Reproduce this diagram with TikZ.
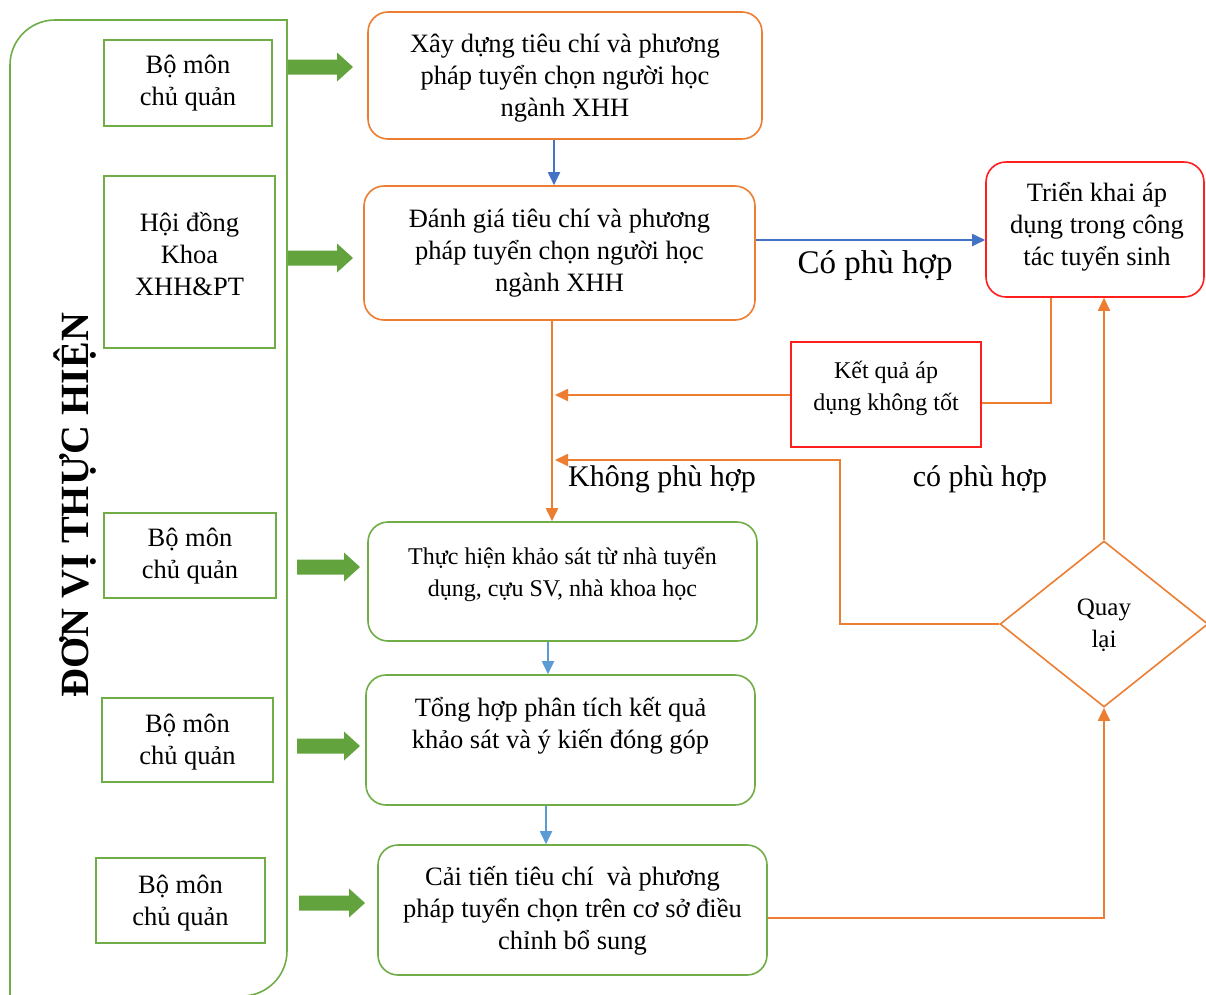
\documentclass[tikz,border=0pt]{standalone}
\usepackage{fontspec}
\setmainfont{Liberation Serif}
\usetikzlibrary{arrows.meta,shapes.geometric}
\definecolor{org}{HTML}{ED7D31}
\definecolor{grn}{HTML}{70AD47}
\definecolor{blu}{HTML}{4472C4}
\definecolor{lblu}{HTML}{5B9BD5}
\definecolor{rd}{HTML}{FF1F1F}
\definecolor{arrgreen}{HTML}{62A33E}
\newcommand\greenarrow[3]{\fill[arrgreen] (#1,#3-7.5) -- (#2-16,#3-7.5) -- (#2-16,#3-14.5) -- (#2,#3) -- (#2-16,#3+14.5) -- (#2-16,#3+7.5) -- (#1,#3+7.5) -- cycle;}
\tikzset{
  gbox/.style={draw=grn, line width=1.6pt, inner sep=0pt},
  obox/.style={draw=org, line width=1.6pt, rounded corners=20pt, inner sep=0pt},
  gmain/.style={draw=grn, line width=1.6pt, rounded corners=20pt, inner sep=0pt},
  rbox/.style={draw=rd, line width=1.6pt, rounded corners=20pt, inner sep=0pt},
  rsharp/.style={draw=rd, line width=1.6pt, inner sep=0pt},
  txt/.style={align=center, inner sep=0pt, font=\fontsize{26.5}{32}\selectfont},
  lbl/.style={inner sep=0pt, font=\fontsize{30}{34}\selectfont},
  bline/.style={draw=blu, line width=1.8pt, -{Triangle[length=13pt,width=12pt]}},
  lbline/.style={draw=lblu, line width=1.8pt, -{Triangle[length=13pt,width=12pt]}},
  oline/.style={draw=org, line width=1.8pt},
  oarrow/.style={draw=org, line width=1.8pt, -{Triangle[length=13pt,width=12pt]}},
}
\begin{document}
\begin{tikzpicture}[x=1pt,y=-1pt]
\useasboundingbox (0,0) rectangle (1206,994);
\clip (0,0) rectangle (1206,994);
\fill[white] (0,0) rectangle (1206,994);

% container
\draw[grn, line width=1.6pt] (10,1010) -- (10,65) .. controls (10,40.15) and (30.15,20) .. (55,20) -- (287,20) -- (287,951) .. controls (287,975.85) and (266.85,996) .. (242,996) -- (10,996);
\node[rotate=90, anchor=base, inner sep=0pt, font=\bfseries\fontsize{40}{40}\selectfont] (title) at (88,505) {ĐƠN VỊ THỰC HIỆN};

% left boxes
\node[gbox, minimum width=168, minimum height=86] (L1) at (188,83) {};
\node[txt] at (188,83) {Bộ môn\\chủ quản};
\node[gbox, minimum width=171, minimum height=172] (L2) at (189.5,262) {};
\node[txt] at (189.5,254) {Hội đồng\\Khoa\\XHH\&PT};
\node[gbox, minimum width=172, minimum height=85] (L3) at (190,555.5) {};
\node[txt] at (190,556) {Bộ môn\\chủ quản};
\node[gbox, minimum width=171, minimum height=84] (L4) at (187.5,740) {};
\node[txt] at (187.5,742) {Bộ môn\\chủ quản};
\node[gbox, minimum width=169, minimum height=85] (L5) at (180.5,900.5) {};
\node[txt] at (180.5,903) {Bộ môn\\chủ quản};

% block arrows
\greenarrow{288}{353}{67}
\greenarrow{288}{353}{258}
\greenarrow{297}{360}{567}
\greenarrow{297}{360}{746}
\greenarrow{299}{365}{903}

% main boxes
\node[obox, minimum width=394, minimum height=127] (A) at (565,75.5) {};
\node[txt] at (565,78) {Xây dựng tiêu chí và phương\\pháp tuyển chọn người học\\ngành XHH};
\node[obox, minimum width=391, minimum height=134] (B) at (559.5,253) {};
\node[txt] at (559.5,253) {Đánh giá tiêu chí và phương\\pháp tuyển chọn người học\\ngành XHH};
\node[gmain, minimum width=389, minimum height=119] (C) at (562.5,581.5) {};
\node[txt, font=\fontsize{24}{32}\selectfont] at (562.5,574) {Thực hiện khảo sát từ nhà tuyển\\dụng, cựu SV, nhà khoa học};
\node[gmain, minimum width=389, minimum height=130] (D) at (560.5,740) {};
\node[txt] at (560.5,726) {Tổng hợp phân tích kết quả\\khảo sát và ý kiến đóng góp};
\node[gmain, minimum width=389, minimum height=130] (E) at (572.5,910) {};
\node[txt] at (572.5,911) {Cải tiến tiêu chí\ \ và phương\\pháp tuyển chọn trên cơ sở điều\\chỉnh bổ sung};
\node[rbox, minimum width=218, minimum height=135] (T) at (1095,229.5) {};
\node[txt] at (1097,227) {Triển khai áp\\dụng trong công\\tác tuyển sinh};
\node[rsharp, minimum width=190, minimum height=105] (K) at (886,394.5) {};
\node[txt, font=\fontsize{24}{32}\selectfont] at (886,388) {Kết quả áp\\dụng không tốt};
\node[diamond, draw=org, line width=1.6pt, minimum width=208, minimum height=166, aspect=1.25, inner sep=0pt] (Q) at (1104,624) {};
\node[txt, font=\fontsize{25}{32}\selectfont] at (1104,625) {Quay\\lại};

% connectors
\draw[bline] (A.south -| 554,0) -- (B.north -| 554,0);
\draw[bline] (B.east |- 0,240) -- (T.west |- 0,240);
\draw[lbline] (C.south -| 548,0) -- (D.north -| 548,0);
\draw[lbline] (D.south -| 546,0) -- (E.north -| 546,0);
\draw[oarrow] (B.south -| 552,0) -- (C.north -| 552,0);
\coordinate (j1) at (555,395);
\coordinate (j2) at (555,460);
\coordinate (j3) at (840,460);
\draw[oarrow] (K.west |- j1) -- (j1);
\draw[oline] (T.south -| 1051,0) |- (K.east |- 0,403);
\draw[oarrow] (Q.west) -| (j3) -- (j2);
\draw[oarrow] (Q.north) -- (T.south -| Q.north);
\draw[oarrow] (E.east |- 0,918) -| (Q.south);

% labels
\node[lbl, font=\fontsize{33}{36}\selectfont] at (875,266) {Có phù hợp};
\node[lbl] at (662,479) {Không phù hợp};
\node[lbl] at (980,479) {có phù hợp};
\end{tikzpicture}
\end{document}
